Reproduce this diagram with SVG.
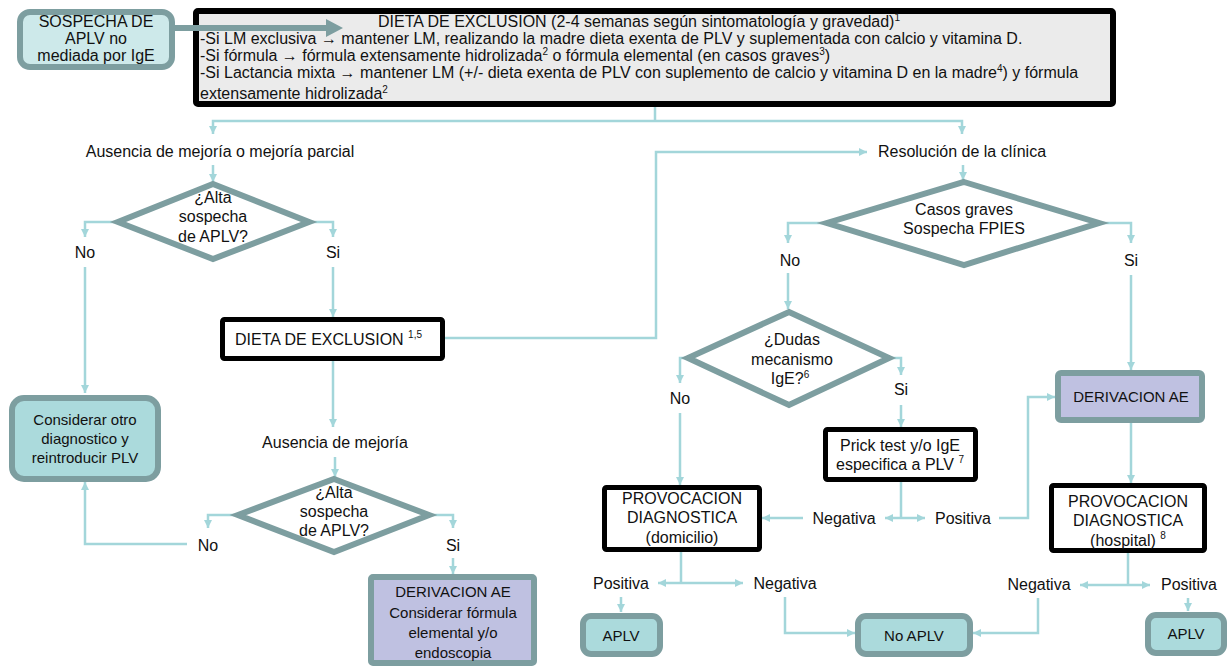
<svg xmlns="http://www.w3.org/2000/svg" width="1227" height="666" viewBox="0 0 1227 666">
<defs>
<style>
text{font-family:"Liberation Sans",Arial,Helvetica,sans-serif;fill:#111;}
.t16{font-size:16px;}
.t15{font-size:15px;}
.c{text-anchor:middle;}
.sup{font-size:10px;}
.con{fill:none;stroke:#a3d6da;stroke-width:2.5;}
.bk{fill:#fff;stroke:#000;stroke-width:5;}
.rb{fill:#abdadc;stroke:#7d9ea0;stroke-width:6;}
.lv{fill:#bfc1e1;stroke:#7d9ea0;stroke-width:6;}
.dm{fill:#fff;stroke:#7d9ea0;stroke-width:6;stroke-linejoin:miter;}
</style>
<marker id="ah" viewBox="0 0 10 10" refX="10" refY="5" markerWidth="9" markerHeight="8" markerUnits="userSpaceOnUse" orient="auto-start-reverse">
<path d="M0,0 L10,5 L0,10 z" fill="#a3d6da"/>
</marker>
</defs>

<g id="main">
<rect x="196" y="11" width="917" height="93" fill="#ebebeb" stroke="#000" stroke-width="6" rx="2"/>
<text class="t16" x="639" y="27" text-anchor="middle">DIETA DE EXCLUSION (2-4 semanas según sintomatología y gravedad)<tspan class="sup" dy="-6">1</tspan></text>
<text class="t16" x="200" y="44">-Si LM exclusiva → mantener LM, realizando la madre dieta exenta de PLV y suplementada con calcio y vitamina D.</text>
<text class="t16" x="200" y="61">-Si fórmula → fórmula extensamente hidrolizada<tspan class="sup" dy="-6">2</tspan><tspan dy="6"> o fórmula elemental (en casos graves</tspan><tspan class="sup" dy="-6">3</tspan><tspan dy="6">)</tspan></text>
<text class="t16" x="200" y="78">-Si Lactancia mixta → mantener LM (+/- dieta exenta de PLV con suplemento de calcio y vitamina D en la madre<tspan class="sup" dy="-6">4</tspan><tspan dy="6">) y fórmula</tspan></text>
<text class="t16" x="200" y="99">extensamente hidrolizada<tspan class="sup" dy="-6">2</tspan></text>
</g>

<g id="sospecha">
<rect x="20" y="12" width="152" height="55" rx="10" fill="#cde9ea" stroke="#7d9ea0" stroke-width="6"/>
<text class="t16 c" x="96" y="27">SOSPECHA DE</text>
<text class="t16 c" x="96" y="44">APLV no</text>
<text class="t16 c" x="96" y="61">mediada por IgE</text>
</g>

<g id="big-arrow">
<path d="M172,25 H326 V19 L343,28 L326,37 V31 H172 z" fill="#7d9ea0"/>
</g>

<g id="connectors">
<path class="con" d="M655,107 V121"/>
<path class="con" d="M655,121 H213 V134" marker-end="url(#ah)"/>
<path class="con" d="M655,121 H962 V134" marker-end="url(#ah)"/>
<path class="con" d="M213,165 V182" marker-end="url(#ah)"/>
<path class="con" d="M117,222 H85 V237" marker-end="url(#ah)"/>
<path class="con" d="M310,222 H333 V237" marker-end="url(#ah)"/>
<path class="con" d="M85,267 V393" marker-end="url(#ah)"/>
<path class="con" d="M333,267 V317" marker-end="url(#ah)"/>
<path class="con" d="M445,338 H656 V152 H867" marker-end="url(#ah)"/>
<path class="con" d="M333,361 V427" marker-end="url(#ah)"/>
<path class="con" d="M335,457 V477" marker-end="url(#ah)"/>
<path class="con" d="M237,515 H208 V528" marker-end="url(#ah)"/>
<path class="con" d="M430,515 H453 V528" marker-end="url(#ah)"/>
<path class="con" d="M187,544 H85 V482" marker-end="url(#ah)"/>
<path class="con" d="M453,558 V574" marker-end="url(#ah)"/>
<path class="con" d="M963,165 V180" marker-end="url(#ah)"/>
<path class="con" d="M826,223 H788 V243" marker-end="url(#ah)"/>
<path class="con" d="M1100,223 H1131 V243" marker-end="url(#ah)"/>
<path class="con" d="M788,273 V309" marker-end="url(#ah)"/>
<path class="con" d="M1131,275 V370" marker-end="url(#ah)"/>
<path class="con" d="M687,358 H680 V383" marker-end="url(#ah)"/>
<path class="con" d="M890,358 H901 V375" marker-end="url(#ah)"/>
<path class="con" d="M680,413 V485" marker-end="url(#ah)"/>
<path class="con" d="M901,405 V427" marker-end="url(#ah)"/>
<path class="con" d="M901,482 V518"/>
<path class="con" d="M885,518 H925" marker-start="url(#ah)" marker-end="url(#ah)"/>
<path class="con" d="M803,518 H762" marker-end="url(#ah)"/>
<path class="con" d="M999,518 H1028 V397 H1055" marker-end="url(#ah)"/>
<path class="con" d="M681,552 V583"/>
<path class="con" d="M658,583 H743" marker-start="url(#ah)" marker-end="url(#ah)"/>
<path class="con" d="M621,597 V612" marker-end="url(#ah)"/>
<path class="con" d="M785,597 V633 H855" marker-end="url(#ah)"/>
<path class="con" d="M1131,423 V483" marker-end="url(#ah)"/>
<path class="con" d="M1128,553 V585"/>
<path class="con" d="M1080,585 H1150" marker-start="url(#ah)" marker-end="url(#ah)"/>
<path class="con" d="M1038,598 V633 H973" marker-end="url(#ah)"/>
<path class="con" d="M1188,598 V611" marker-end="url(#ah)"/>
</g>

<g id="labels">
<text class="t16 c" x="220" y="157">Ausencia de mejoría o mejoría parcial</text>
<text class="t16 c" x="962" y="157">Resolución de la clínica</text>
<text class="t16 c" x="85" y="258">No</text>
<text class="t16 c" x="333" y="258">Si</text>
<text class="t16 c" x="335" y="448">Ausencia de mejoría</text>
<text class="t16 c" x="208" y="551">No</text>
<text class="t16 c" x="453" y="551">Si</text>
<text class="t16 c" x="790" y="266">No</text>
<text class="t16 c" x="1131" y="266">Si</text>
<text class="t16 c" x="680" y="404">No</text>
<text class="t16 c" x="901" y="395">Si</text>
<text class="t16 c" x="844" y="524">Negativa</text>
<text class="t16 c" x="963" y="524">Positiva</text>
<text class="t16 c" x="621" y="589">Positiva</text>
<text class="t16 c" x="785" y="589">Negativa</text>
<text class="t16 c" x="1039" y="590">Negativa</text>
<text class="t16 c" x="1189" y="590">Positiva</text>
</g>

<g id="d1">
<polygon class="dm" points="213,184 309,222 213,259 118,222"/>
<text class="t16 c" x="213" y="203">¿Alta</text>
<text class="t16 c" x="213" y="222">sospecha</text>
<text class="t16 c" x="213" y="242">de APLV?</text>
</g>

<g id="dieta2">
<rect class="bk" x="222.5" y="319.5" width="220" height="39" rx="2"/>
<text class="t16" x="235" y="345">DIETA DE EXCLUSION <tspan class="sup" dy="-7">1,5</tspan></text>
</g>

<g id="considerar">
<rect class="rb" x="12" y="398" width="146" height="81" rx="12"/>
<text class="t15 c" x="85" y="425">Considerar otro</text>
<text class="t15 c" x="85" y="444">diagnostico y</text>
<text class="t15 c" x="85" y="463">reintroducir PLV</text>
</g>

<g id="d2">
<polygon class="dm" points="334,479 429,515 334,552 238,515"/>
<text class="t16 c" x="334" y="498">¿Alta</text>
<text class="t16 c" x="334" y="517">sospecha</text>
<text class="t16 c" x="334" y="536">de APLV?</text>
</g>

<g id="derivacion1">
<rect class="lv" x="371" y="577" width="163" height="86" rx="2"/>
<text class="t15 c" x="453" y="597">DERIVACION AE</text>
<text class="t15 c" x="453" y="618">Considerar fórmula</text>
<text class="t15 c" x="453" y="638">elemental y/o</text>
<text class="t15 c" x="453" y="658">endoscopia</text>
</g>

<g id="d3">
<polygon class="dm" points="964,182 1099,223 964,265 827,223"/>
<text class="t16 c" x="964" y="215">Casos graves</text>
<text class="t16 c" x="964" y="234">Sospecha FPIES</text>
</g>

<g id="d4">
<polygon class="dm" points="789,312 889,358 789,405 688,358"/>
<text class="t16 c" x="792" y="345">¿Dudas</text>
<text class="t16 c" x="792" y="365">mecanismo</text>
<text class="t16 c" x="790" y="384">IgE?<tspan class="sup" dy="-6">6</tspan></text>
</g>

<g id="prick">
<rect class="bk" x="825.5" y="429.5" width="150" height="50" rx="2"/>
<text class="t16 c" x="900" y="451">Prick test y/o IgE</text>
<text class="t16 c" x="900" y="470">especifica a PLV <tspan class="sup" dy="-7">7</tspan></text>
</g>

<g id="provocacion-domicilio">
<rect class="bk" x="604.5" y="487.5" width="155" height="62" rx="2"/>
<text class="t16 c" x="682" y="504">PROVOCACION</text>
<text class="t16 c" x="682" y="523">DIAGNOSTICA</text>
<text class="t16 c" x="682" y="543">(domicilio)</text>
</g>

<g id="derivacion2">
<rect class="lv" x="1058" y="373" width="144" height="47" rx="3"/>
<text class="t15 c" x="1131" y="402">DERIVACION AE</text>
</g>

<g id="provocacion-hospital">
<rect class="bk" x="1051.5" y="485.5" width="153" height="65" rx="2"/>
<text class="t16 c" x="1128" y="507">PROVOCACION</text>
<text class="t16 c" x="1128" y="526">DIAGNOSTICA</text>
<text class="t16 c" x="1128" y="546">(hospital) <tspan class="sup" dy="-7">8</tspan></text>
</g>

<g id="aplv1">
<rect class="rb" x="583" y="616" width="77" height="38" rx="8"/>
<text class="t15 c" x="621" y="641">APLV</text>
</g>

<g id="noaplv">
<rect class="rb" x="858" y="616" width="112" height="38" rx="8"/>
<text class="t15 c" x="914" y="641">No APLV</text>
</g>

<g id="aplv2">
<rect class="rb" x="1148" y="615" width="76" height="38" rx="8"/>
<text class="t15 c" x="1186" y="639">APLV</text>
</g>
</svg>
